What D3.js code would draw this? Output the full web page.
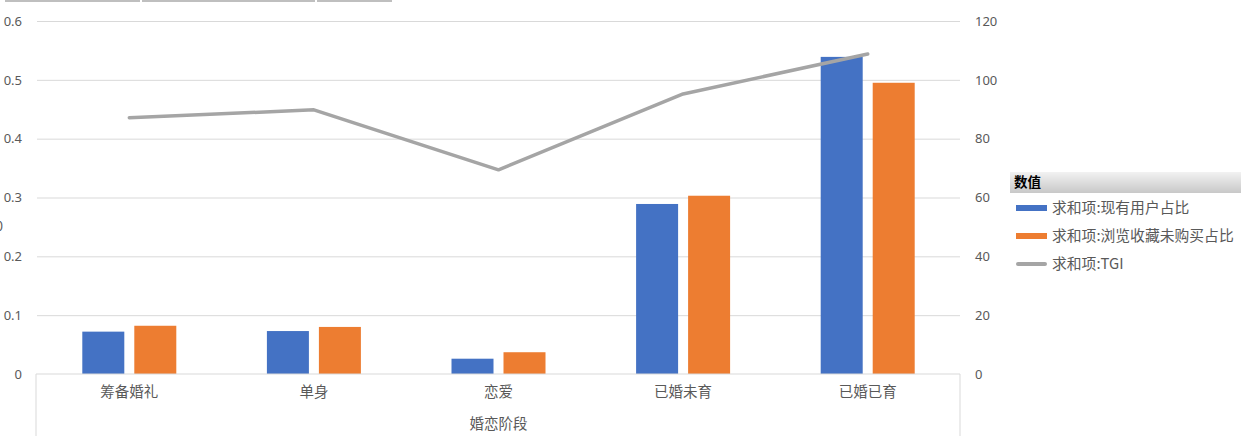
<!DOCTYPE html>
<html>
<head>
<meta charset="utf-8">
<script src="https://cdn.jsdelivr.net/npm/d3@7/dist/d3.min.js"></script>
<style>
  html, body { margin: 0; padding: 0; background: #fff; }
  svg { display: block; font-family: "Noto Sans CJK SC", "Microsoft YaHei", sans-serif; }
</style>
</head>
<body>
<div id="chart"></div>
<script>
// data
const categories = ['筹备婚礼', '单身', '恋爱', '已婚未育', '已婚已育'];
const userShare = [0.072, 0.073, 0.026, 0.289, 0.539];      // 求和项:现有用户占比
const browseShare = [0.082, 0.080, 0.037, 0.303, 0.495];    // 求和项:浏览收藏未购买占比
const tgi = [87.1, 89.8, 69.4, 95.2, 108.8];                // 求和项:TGI
const leftTicks = [0, 0.1, 0.2, 0.3, 0.4, 0.5, 0.6];
const rightTicks = [0, 20, 40, 60, 80, 100, 120];
const seriesNames = ['求和项:现有用户占比', '求和项:浏览收藏未购买占比', '求和项:TGI'];

const WIDTH = 1241, HEIGHT = 441;
const PLOT_LEFT = 37, PLOT_RIGHT = 960, PLOT_TOP = 21, PLOT_BOTTOM = 374;
const BLUE = '#4472C4', ORANGE = '#ED7D31', GREY = '#A5A5A5';
const TEXT = '#595959', GRID = '#D9D9D9';

const svg = d3.select('#chart').append('svg')
  .attr('width', WIDTH)
  .attr('height', HEIGHT);

// pivot field buttons cut off at the top
const buttons = [[5, 140], [142, 315], [317, 392]];
svg.append('g').selectAll('rect')
  .data(buttons)
  .enter().append('rect')
  .attr('x', d => d[0]).attr('y', 0)
  .attr('width', d => d[1] - d[0]).attr('height', 2)
  .attr('fill', '#BFBFBF');

// scales
const x = d3.scaleBand().domain(categories).range([PLOT_LEFT, PLOT_RIGHT]);
const yLeft = d3.scaleLinear().domain([0, 0.6]).range([PLOT_BOTTOM, PLOT_TOP]);
const yRight = d3.scaleLinear().domain([0, 120]).range([PLOT_BOTTOM, PLOT_TOP]);

// gridlines
svg.append('g')
  .attr('transform', `translate(${PLOT_LEFT},0)`)
  .call(d3.axisLeft(yLeft).tickValues(leftTicks.slice(1)).tickSize(-(PLOT_RIGHT - PLOT_LEFT)).tickFormat(''))
  .call(g => g.select('.domain').remove())
  .call(g => g.selectAll('line').attr('stroke', GRID));

// left axis labels
svg.append('g')
  .attr('transform', `translate(${PLOT_LEFT},0)`)
  .call(d3.axisLeft(yLeft).tickValues(leftTicks).tickSize(0).tickPadding(15).tickFormat(d => d === 0 ? '0' : d3.format('.1f')(d)))
  .call(g => g.select('.domain').remove())
  .call(g => g.selectAll('text').attr('fill', TEXT).style('font-size', '13px').style('font-family', '"Noto Sans", sans-serif'));

// right axis labels
svg.append('g')
  .attr('transform', `translate(${PLOT_RIGHT},0)`)
  .call(d3.axisRight(yRight).tickValues(rightTicks).tickSize(0).tickPadding(15))
  .call(g => g.select('.domain').remove())
  .call(g => g.selectAll('text').attr('fill', TEXT).style('font-size', '13px').style('font-family', '"Noto Sans", sans-serif'));

// bars
const BAR_W = 42, BAR_OFF = 26;
const bars = svg.append('g');
bars.selectAll('.blue')
  .data(userShare)
  .enter().append('rect')
  .attr('x', (d, i) => x(categories[i]) + x.bandwidth() / 2 - BAR_OFF - BAR_W / 2)
  .attr('y', d => yLeft(d))
  .attr('width', BAR_W)
  .attr('height', d => yLeft(0) - yLeft(d))
  .attr('fill', BLUE);
bars.selectAll('.orange')
  .data(browseShare)
  .enter().append('rect')
  .attr('x', (d, i) => x(categories[i]) + x.bandwidth() / 2 + BAR_OFF - BAR_W / 2)
  .attr('y', d => yLeft(d))
  .attr('width', BAR_W)
  .attr('height', d => yLeft(0) - yLeft(d))
  .attr('fill', ORANGE);

// category axis (two level look)
svg.append('g')
  .attr('transform', `translate(0,${PLOT_BOTTOM})`)
  .call(d3.axisBottom(x).tickSize(0).tickPadding(13))
  .call(g => g.select('.domain').attr('stroke', GRID).attr('d', `M${PLOT_LEFT - 1},62V0H${PLOT_RIGHT}V62`))
  .call(g => g.selectAll('text').attr('fill', TEXT).style('font-size', '14.5px').style('font-family', '"Noto Sans CJK SC", sans-serif'));

svg.append('text')
  .attr('x', (PLOT_LEFT + PLOT_RIGHT) / 2)
  .attr('y', 429)
  .attr('text-anchor', 'middle')
  .attr('fill', TEXT)
  .style('font-size', '14.5px')
  .text('婚恋阶段');

// TGI line
const line = d3.line()
  .x((d, i) => x(categories[i]) + x.bandwidth() / 2)
  .y(d => yRight(d));
svg.append('path')
  .datum(tgi)
  .attr('d', line)
  .attr('fill', 'none')
  .attr('stroke', GREY)
  .attr('stroke-width', 3.5)
  .attr('stroke-linecap', 'round')
  .attr('stroke-linejoin', 'round');

// clipped axis title remnant at the left edge (cut off in the reference too)
svg.append('text')
  .attr('x', 3).attr('y', 231)
  .attr('text-anchor', 'end')
  .attr('fill', TEXT)
  .style('font-size', '13px')
  .text('0');

// legend
const defs = svg.append('defs');
const grad = defs.append('linearGradient').attr('id', 'hdr').attr('x1', 0).attr('y1', 0).attr('x2', 0).attr('y2', 1);
grad.append('stop').attr('offset', '0%').attr('stop-color', '#F2F2F2');
grad.append('stop').attr('offset', '100%').attr('stop-color', '#C8C8C8');

const legend = svg.append('g');
legend.append('rect')
  .attr('x', 1010).attr('y', 172)
  .attr('width', WIDTH - 1010).attr('height', 21)
  .attr('fill', 'url(#hdr)');
legend.append('text')
  .attr('x', 1014).attr('y', 187)
  .attr('fill', '#000')
  .style('font-size', '13.5px')
  .style('font-weight', 'bold')
  .text('数值');

const legendColors = [BLUE, ORANGE, GREY];
const item = legend.selectAll('.item')
  .data(seriesNames)
  .enter().append('g')
  .attr('transform', (d, i) => `translate(1016,${208 + i * 28})`);
item.append('rect')
  .attr('x', 0)
  .attr('y', (d, i) => i === 2 ? -2 : -3)
  .attr('width', 31)
  .attr('height', (d, i) => i === 2 ? 4 : 6)
  .attr('rx', (d, i) => i === 2 ? 2 : 0)
  .attr('fill', (d, i) => legendColors[i]);
item.append('text')
  .attr('x', 36).attr('y', 5)
  .attr('fill', TEXT)
  .style('font-size', '14.8px')
  .text(d => d);
</script>
</body>
</html>
